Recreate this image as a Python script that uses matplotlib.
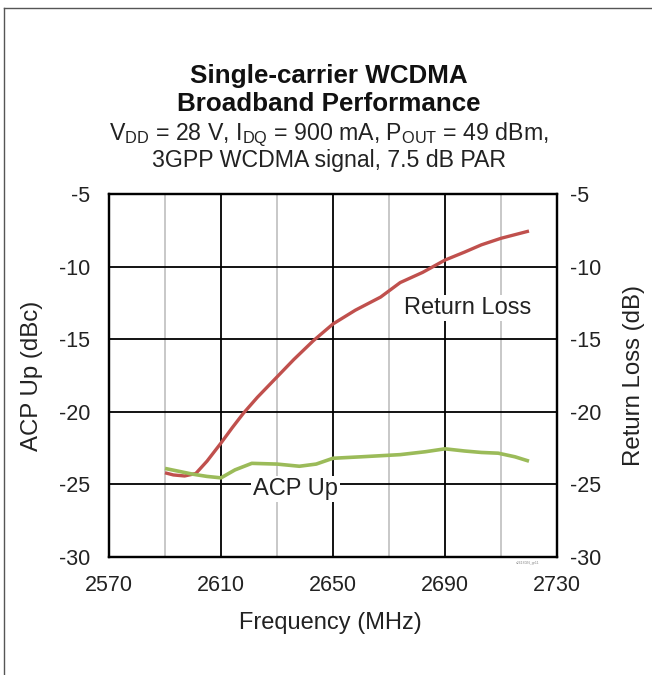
import matplotlib
matplotlib.use("Agg")
import matplotlib.pyplot as plt
from matplotlib.lines import Line2D

plt.rcParams['font.family'] = ['Liberation Sans', 'DejaVu Sans']
plt.rcParams['mathtext.fontset'] = 'custom'
plt.rcParams['mathtext.rm'] = 'Liberation Sans'
plt.rcParams['axes.unicode_minus'] = False

# axis ticks
x_major = [2570, 2610, 2650, 2690, 2730]
x_minor = [2590, 2630, 2670, 2710]
y_ticks = [-30, -25, -20, -15, -10, -5]

# Return Loss (dB) vs frequency
rl_freq = [2590, 2593, 2597, 2601, 2605, 2610, 2614, 2618, 2623, 2629, 2636, 2643, 2650,
           2658, 2667, 2674, 2682, 2690, 2697, 2703, 2710, 2715, 2720]
rl_val = [-24.2, -24.35, -24.42, -24.25, -23.4, -22.15, -21.1, -20.1, -19.0, -17.8, -16.4,
          -15.1, -13.95, -13.0, -12.1, -11.1, -10.4, -9.55, -9.0, -8.5, -8.05, -7.8, -7.55]

# ACP Up (dBc) vs frequency
acp_freq = [2590, 2595, 2600, 2605, 2610, 2615, 2621, 2630, 2638, 2644, 2650, 2660, 2674,
            2683, 2690, 2697, 2703, 2709, 2715, 2720]
acp_val = [-23.9, -24.1, -24.3, -24.45, -24.55, -24.0, -23.55, -23.6, -23.75, -23.6, -23.2,
           -23.1, -22.95, -22.75, -22.55, -22.7, -22.8, -22.85, -23.1, -23.4]

W, H = 652, 675
fig = plt.figure(figsize=(W/100, H/100), dpi=100)

# page frame (top and left edges visible)
fig.add_artist(Line2D([4/W, 1], [1-8/H, 1-8/H], color='#555555', lw=1.0))
fig.add_artist(Line2D([4/W, 4/W], [0, 1-8/H], color='#555555', lw=1.0))

ax = fig.add_axes([109/W, 1-557/H, 448/W, 363/H])
ax.set_xlim(2570, 2730)
ax.set_ylim(-30, -5)
ax.set_xticks(x_major)
ax.set_xticks(x_minor, minor=True)
ax.set_yticks(y_ticks)

ax.grid(which='minor', axis='x', color='#c4c4c4', lw=1.3, zorder=0)
ax.grid(which='major', axis='both', color='black', lw=1.3, zorder=1)
ax.set_axisbelow(True)
for s in ax.spines.values():
    s.set_linewidth(1.6)

ax.plot(rl_freq, rl_val, color='#c0504d', lw=2.4, zorder=3, solid_capstyle='butt')
ax.plot(acp_freq, acp_val, color='#9bbb59', lw=2.6, zorder=3, solid_capstyle='butt')

ax.tick_params(which='both', length=0, labelsize=15.5, colors='#222222')
ax.tick_params(axis='y', pad=13.5)
ax.tick_params(axis='x', pad=13)

ax2 = ax.twinx()
ax2.set_ylim(-30, -5)
ax2.set_yticks(y_ticks)
ax2.tick_params(length=0, labelsize=15.5, pad=9.5, colors='#222222')
for s in ax2.spines.values():
    s.set_linewidth(1.6)

fig.text(330/W, 1-623/H, "Frequency (MHz)", fontsize=17, ha='center', va='center',
         color='#222222')
fig.text(32/W, 1-376/H, "ACP Up (dBc)", fontsize=17.3, rotation=90, ha='center',
         va='center', color='#222222')
fig.text(634/W, 1-375/H, "Return Loss (dB)", fontsize=17.3, rotation=90, ha='center',
         va='center', color='#222222')

box = dict(facecolor='white', edgecolor='none', pad=1.5)
ax.text(2698, -12.85, "Return Loss", fontsize=17, ha='center', va='center',
        color='#222222', bbox=box, zorder=4)
ax.text(2636.5, -25.3, "ACP Up", fontsize=17, ha='center', va='center',
        color='#222222', bbox=box, zorder=4)

fig.text(528/W, 1-563/H, "s2618GN_gr11", fontsize=2.5, color='#888888',
         ha='center', va='center')

cx = 329/W
fig.text(cx, 1-83/H, "Single-carrier WCDMA", fontsize=18.7, fontweight='bold',
         ha='center', va='baseline', color='#111111')
fig.text(cx, 1-111/H, "Broadband Performance", fontsize=18.7, fontweight='bold',
         ha='center', va='baseline', color='#111111')
fig.text(cx, 1-140/H,
         r"V$_\mathrm{DD}$ = 28 V, I$_\mathrm{DQ}$ = 900 mA, P$_\mathrm{OUT}$ = 49 dBm,",
         fontsize=16.7, ha='center', va='baseline', color='#222222')
fig.text(cx, 1-167/H, "3GPP WCDMA signal, 7.5 dB PAR", fontsize=16.7,
         ha='center', va='baseline', color='#222222')

fig.savefig("out.png", dpi=100)
